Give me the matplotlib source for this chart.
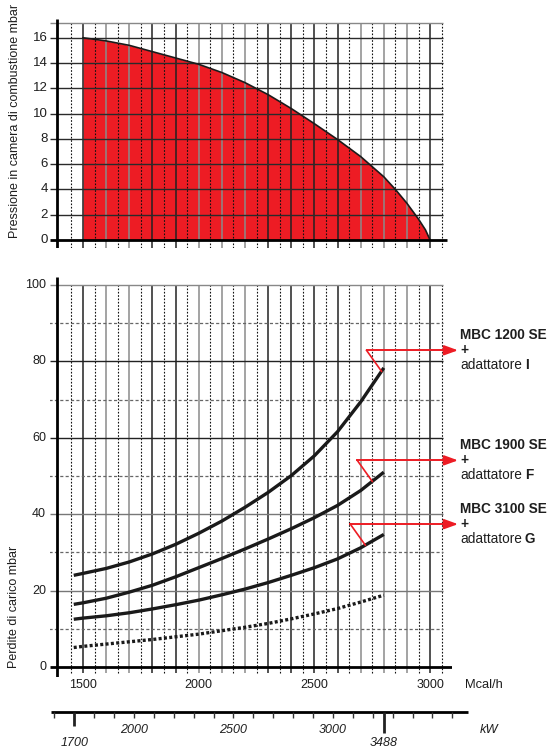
import numpy as np
import matplotlib
matplotlib.use("Agg")
import matplotlib.pyplot as plt

plt.rcParams['font.family'] = ['Liberation Sans', 'DejaVu Sans']

# ---------------- data ----------------
top_flow = [1500, 1600, 1700, 1800, 1900, 2000, 2100, 2200, 2300, 2400, 2500,
            2600, 2700, 2800, 2850, 2900, 2950, 2980, 3000]
top_pressure = [16, 15.75, 15.4, 14.9, 14.4, 13.9, 13.25, 12.45, 11.5, 10.4, 9.2,
                7.95, 6.6, 5.0, 4.0, 2.9, 1.65, 0.8, 0]

flow = [1460, 1500, 1600, 1700, 1800, 1900, 2000, 2100, 2200, 2300, 2400, 2500, 2600, 2700, 2800]
loss_mbc1200 = [24, 24.5, 25.8, 27.5, 29.6, 32.1, 35, 38.2, 41.8, 45.7, 50.1, 55.3, 61.6, 69.4, 78.3]
loss_mbc1900 = [16.4, 16.8, 18, 19.6, 21.4, 23.6, 26, 28.4, 30.9, 33.5, 36.2, 39.1, 42.3, 46.2, 51]
loss_mbc3100 = [12.5, 12.8, 13.4, 14.2, 15.2, 16.3, 17.5, 18.9, 20.4, 22.1, 24, 26, 28.3, 31.2, 34.7]
loss_burner = [5.1, 5.4, 6, 6.6, 7.2, 7.9, 8.6, 9.5, 10.4, 11.4, 12.6, 13.9, 15.3, 17, 18.8]

pressure_ticks = [0, 2, 4, 6, 8, 10, 12, 14, 16]
loss_ticks = [0, 20, 40, 60, 80, 100]
mcal_ticks = [1500, 2000, 2500, 3000]
kw_ticks = [2000, 2500, 3000]
kw_marks = [1700, 3488]
model_names = ["MBC 1200 SE", "MBC 1900 SE", "MBC 3100 SE"]
adapter_letters = ["I", "F", "G"]
callout_flow = [2790, 2750, 2720]
MCAL_PER_KW = 0.86

# ---------------- layout helpers ----------------
W, H = 549, 749
fig = plt.figure(figsize=(W / 100, H / 100), dpi=100)
PPU = 115.7 / 500.0  # px per Mcal/h


def fx(px):
    return 1500 + (px - 83) / PPU


def add_ax(l, t, r, b):
    ax = fig.add_axes([l / W, 1 - b / H, (r - l) / W, (b - t) / H])
    ax.axis('off')
    return ax


RED = '#ED1C24'
TXT = '#1e1e1e'
solid_v = np.arange(1500, 3001, 100)
dotted_v = np.arange(1450, 3051, 100)
dark_set = {1500, 1800, 1900, 2300, 2400, 2500, 2600, 3000}
vcolors = ['#222222' if v in dark_set else '#8a8a8a' for v in solid_v]

# ---------------- top chart ----------------
ax1 = add_ax(50, 19, 452, 248)


def ty(px):
    return (240 - px) / 12.64


ax1.set_xlim(fx(50), fx(452))
ax1.set_ylim(ty(248), ty(19))
ytop1 = ty(23.3)
ax1.fill_between(top_flow, 0, top_pressure, color=RED, lw=0, zorder=1)
ax1.vlines(solid_v, ty(248), ytop1, colors=vcolors, lw=1.1, zorder=2)
ax1.vlines(dotted_v, ty(248), ytop1, colors='#111111', lw=0.8,
           linestyles=[(0, (1.5, 1.5))], zorder=2)
ax1.hlines(pressure_ticks[1:], fx(50), fx(443), colors='#2a2a2a', lw=1.0, zorder=2)
ax1.hlines(ytop1, fx(50), fx(443), colors='#888888', lw=1.0, zorder=2)
ax1.plot(top_flow, top_pressure, color='#1a1a1a', lw=1.2, zorder=4,
         solid_joinstyle='round')
ax1.hlines(0, fx(50), fx(447), colors='k', lw=2.0, zorder=5)
ax1.vlines(fx(57), ty(248), ty(19), colors='k', lw=2.0, zorder=5)
for v in pressure_ticks:
    ax1.text(fx(48), v, str(v), ha='right', va='center', fontsize=9.5, color=TXT)
fig.text(15 / W, 1 - 121 / H, "Pressione in camera di combustione mbar", rotation=90,
         ha='center', va='center', fontsize=9, color=TXT)

# ---------------- bottom chart ----------------
ax2 = add_ax(50, 277, 452, 677)


def by(px):
    return (667 - px) / 3.82


ax2.set_xlim(fx(50), fx(452))
ax2.set_ylim(by(677), by(277))
ybot_v = by(673)
ax2.vlines(solid_v, ybot_v, 100, colors=vcolors, lw=1.1, zorder=2)
ax2.vlines(dotted_v, ybot_v, 100, colors='#111111', lw=0.8,
           linestyles=[(0, (1.5, 1.5))], zorder=2)
ax2.hlines([10, 30, 50, 70, 90], fx(49), fx(443), colors='#666666', lw=0.9,
           linestyles=[(0, (2.5, 1.8))], zorder=2)
hcol = {20: '#777777', 40: '#777777', 60: '#222222', 80: '#222222', 100: '#888888'}
for v in loss_ticks[1:]:
    ax2.hlines(v, fx(50), fx(443), colors=hcol[v], lw=1.0, zorder=2)
ax2.hlines(0, fx(50), fx(452), colors='k', lw=2.0, zorder=5)
ax2.vlines(fx(57), by(677), by(277), colors='k', lw=2.0, zorder=5)

for series in (loss_mbc1200, loss_mbc1900, loss_mbc3100):
    ax2.plot(flow, series, color='#1a1a1a', lw=2.4, solid_capstyle='butt',
             solid_joinstyle='round', zorder=4)
ax2.plot(flow, loss_burner, color='#1a1a1a', lw=2.4, linestyle=(0, (0.9, 0.7)), zorder=4)

for v in loss_ticks:
    ax2.text(fx(46), v, str(v), ha='right', va='center', fontsize=9, color=TXT)
for v in mcal_ticks:
    ax2.text(v, by(685), str(v), ha='center', va='center', fontsize=9, color=TXT,
             clip_on=False)
ax2.text(fx(465), by(685), "Mcal/h", ha='left', va='center', fontsize=9.3, color=TXT,
         clip_on=False)
fig.text(14 / W, 1 - 607 / H, "Perdite di carico mbar", rotation=90,
         ha='center', va='center', fontsize=9, color=TXT)

# callouts
for a, series, name, letter in zip(callout_flow, (loss_mbc1200, loss_mbc1900, loss_mbc3100),
                                   model_names, adapter_letters):
    sy = float(np.interp(a, flow, series))
    sx_px = 83 + (a - 1500) * PPU
    sy_px = 667 - sy * 3.82
    kx_px, ky_px = sx_px - 15, sy_px - 21
    kx, ky = fx(kx_px), by(ky_px)
    ax2.plot([a, kx], [sy, ky], color=RED, lw=1.2, zorder=6, clip_on=False)
    ax2.plot([kx, fx(448)], [ky, ky], color=RED, lw=1.4, zorder=6, clip_on=False)
    ax2.annotate("", xy=(fx(458), ky), xytext=(fx(446), ky),
                 arrowprops=dict(arrowstyle='-|>,head_length=0.55,head_width=0.2',
                                 color=RED, lw=1.4, mutation_scale=15, shrinkA=0, shrinkB=0),
                 annotation_clip=False, zorder=6)
    ax2.text(fx(460), by(ky_px - 15), name, ha='left', va='center', fontsize=9.8,
             fontweight='bold', color=TXT, clip_on=False)
    ax2.text(fx(460), by(ky_px), "+", ha='left', va='center', fontsize=9.8,
             fontweight='bold', color=TXT, clip_on=False)
    t = ax2.text(fx(460), by(ky_px + 15), "adattatore", ha='left', va='center',
                 fontsize=9.8, color=TXT, clip_on=False)
    ax2.annotate(letter, xy=(1, 0), xycoords=t, xytext=(2.2, 0), textcoords='offset points',
                 ha='left', va='bottom', fontsize=9.8, fontweight='bold', color=TXT,
                 annotation_clip=False)

# ---------------- kW axis ----------------
ax3 = add_ax(50, 695, 470, 749)
ax3.set_xlim(fx(50) / MCAL_PER_KW, fx(470) / MCAL_PER_KW)
ax3.set_ylim(54, 0)
yl = 16.7
ax3.hlines(yl, fx(51) / MCAL_PER_KW, fx(468) / MCAL_PER_KW, colors='k', lw=2.0)
minor_kw = [k for k in range(1600, 3601, 100) if k != kw_marks[0]]
ax3.vlines(minor_kw, yl, yl + 6.5, colors='#333333', lw=1.0)
mark_pos = [kw_marks[0], flow[-1] / MCAL_PER_KW]
ax3.vlines(mark_pos[0], yl, yl + 14, colors='#222222', lw=2.0)
ax3.vlines(mark_pos[1], yl, yl + 21, colors='#222222', lw=2.0)
for k in kw_ticks:
    ax3.text(k, 35, str(k), ha='center', va='center', fontsize=9, style='italic',
             color=TXT)
for p, k in zip(mark_pos, kw_marks):
    ax3.text(p, 47.5, str(k), ha='center', va='center', fontsize=9, style='italic',
             color=TXT, clip_on=False)
ax3.text(fx(480) / MCAL_PER_KW, 35, "kW", ha='left', va='center', fontsize=9.3,
         style='italic', color=TXT, clip_on=False)

fig.savefig("out.png", dpi=100, facecolor='white')
